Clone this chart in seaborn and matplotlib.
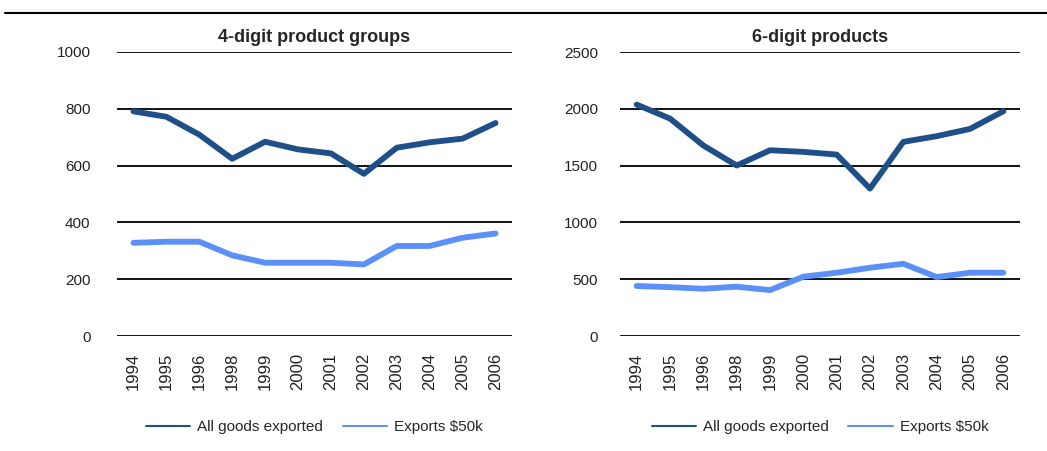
import matplotlib
matplotlib.use("Agg")
import matplotlib.pyplot as plt
from matplotlib.lines import Line2D
import seaborn as sns
import pandas as pd

years = ["1994", "1995", "1996", "1998", "1999", "2000", "2001", "2002", "2003", "2004", "2005", "2006"]
series_names = ["All goods exported", "Exports $50k"]

groups4_all = [791, 772, 709, 624, 684, 657, 643, 571, 663, 682, 695, 750]
groups4_50k = [328, 332, 332, 284, 258, 258, 258, 252, 317, 317, 346, 361]

products6_all = [2037, 1914, 1677, 1501, 1635, 1621, 1597, 1298, 1709, 1759, 1823, 1978]
products6_50k = [440, 430, 416, 434, 404, 522, 557, 601, 636, 519, 557, 557]

titles = ["4-digit product groups", "6-digit products"]
yticks_left = [0, 200, 400, 600, 800, 1000]
yticks_right = [0, 500, 1000, 1500, 2000, 2500]

colors = {"All goods exported": "#1f4f88", "Exports $50k": "#5b8ff9"}

sns.set_theme(style="white")
plt.rcParams["font.family"] = ["Liberation Sans", "DejaVu Sans"]

fig = plt.figure(figsize=(10.47, 4.51), dpi=100)
W, H = 1047, 451

def make_df(a, b):
    return pd.DataFrame({
        "year": years * 2,
        "value": a + b,
        "series": [series_names[0]] * len(years) + [series_names[1]] * len(years),
    })

panels = [
    (make_df(groups4_all, groups4_50k), titles[0], yticks_left, (117, 395), 19),
    (make_df(products6_all, products6_50k), titles[1], yticks_right, (620, 400), 16),
]

for df, title, yt, (x0, w), ypad in panels:
    ax = fig.add_axes([x0 / W, 1 - 336 / H, w / W, (336 - 52) / H])
    sns.lineplot(data=df, x="year", y="value", hue="series", palette=colors,
                 linewidth=4.2, ax=ax, sort=False, legend=False)
    ax.set_xlim(-0.5, len(years) - 0.5)
    ax.set_ylim(yt[0], yt[-1])
    ax.set_yticks(yt)
    ax.set_yticklabels([str(v) for v in yt], fontsize=11, color="#222222")
    ax.tick_params(axis="y", length=0, pad=ypad)
    ax.tick_params(axis="x", length=0, pad=12, labelrotation=90, labelsize=12, labelcolor="#222222")
    ax.set_xlabel("")
    ax.set_ylabel("")
    for s in ax.spines.values():
        s.set_visible(False)
    ax.grid(axis="y", color="black", linewidth=1.3)
    ax.grid(axis="x", visible=False)
    ax.set_axisbelow(True)
    ax.set_title(title, fontsize=13, fontweight="bold", pad=7)
    handles = [Line2D([], [], color=colors[n], linewidth=1.5) for n in series_names]
    ax.legend(handles, series_names, loc="center", bbox_to_anchor=(0.5, -0.32),
              ncol=2, frameon=False, fontsize=11, handlelength=2.9, columnspacing=1.3,
              handletextpad=0.45)

fig.add_artist(Line2D([5 / W, 1.0], [1 - 13 / H, 1 - 13 / H], color="black", linewidth=1.5))

fig.savefig("out.png", dpi=100, facecolor="white")
